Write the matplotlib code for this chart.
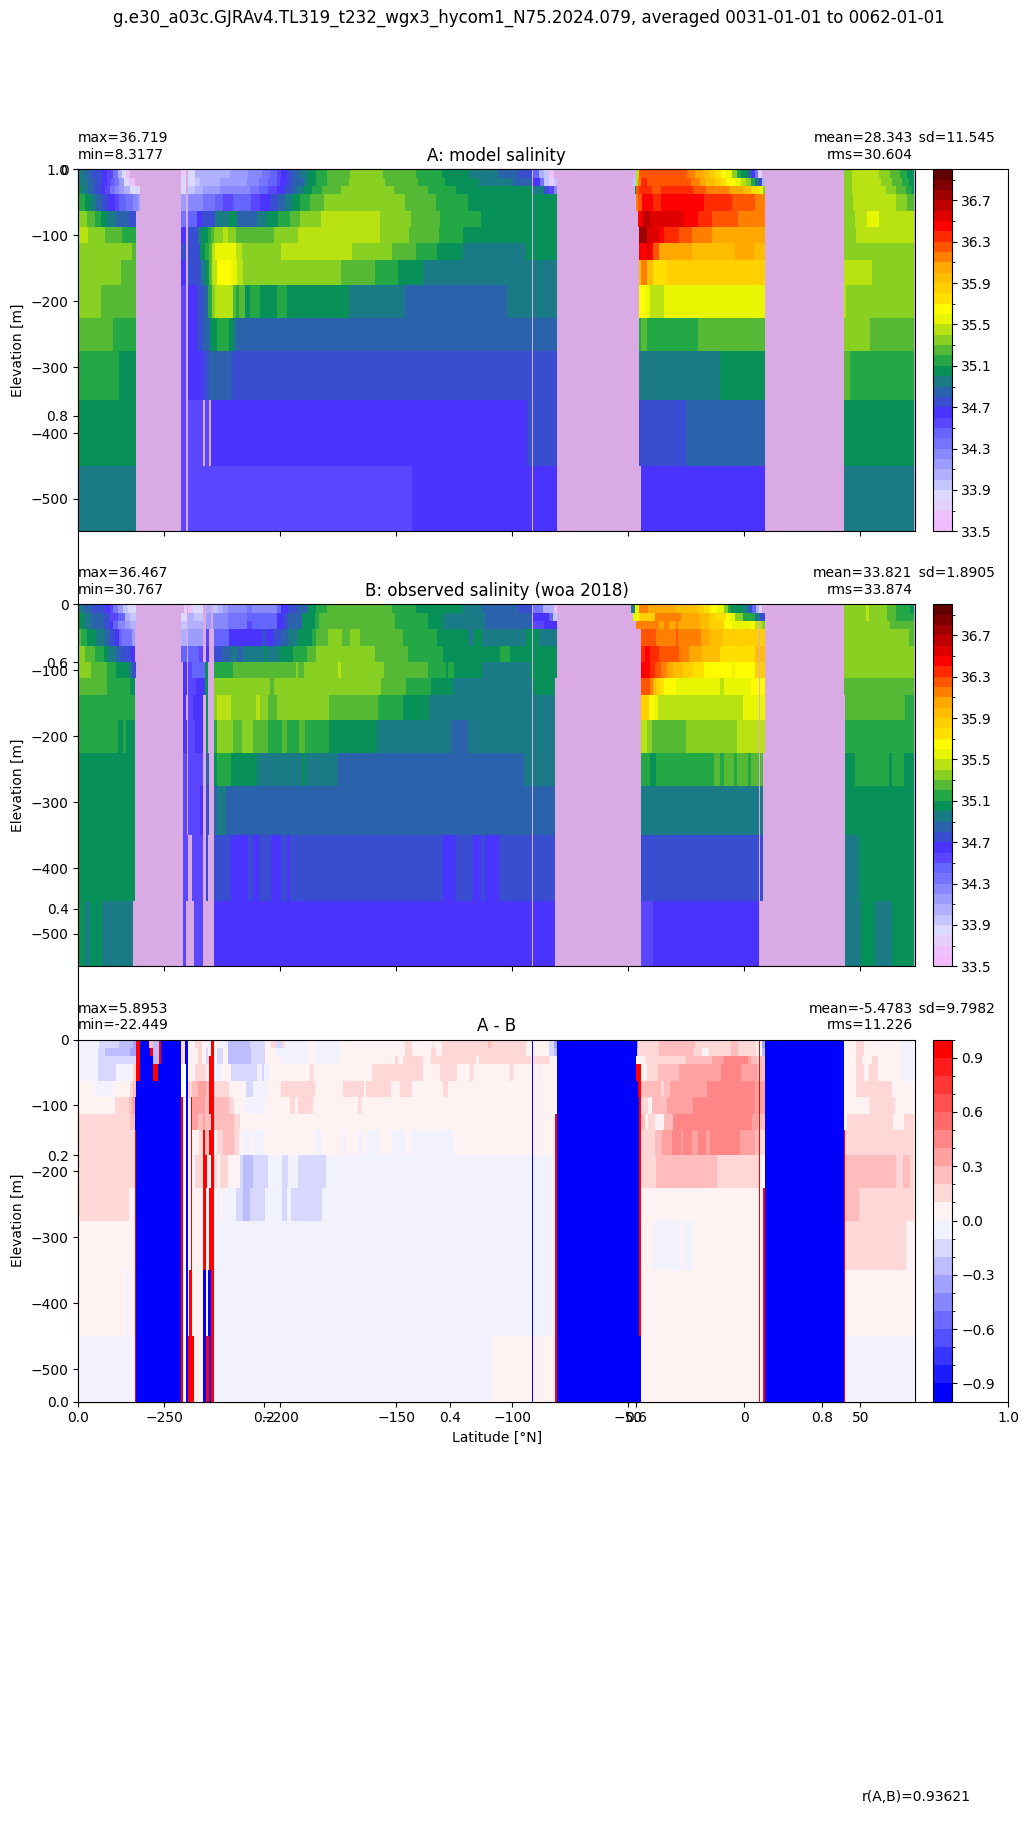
import numpy as np
import matplotlib
matplotlib.use('Agg')
import matplotlib.pyplot as plt
from matplotlib.colors import ListedColormap, Normalize

n = np.nan
lo = -0.95
hi = 0.95

# layer interfaces [m]
z_edges = [0, 12.5, 25, 37.5, 62.5, 87.5, 112.5, 137.5, 175, 225, 275, 350, 450, 550]

salt_colors = ['#f2bcfc', '#efc0fb', '#e4cffb', '#dbdafe', '#c4c6ff', '#b0b0ff', '#9c9cff',
               '#8888ff', '#7474ff', '#6464ff', '#5a46ff', '#4b33ff', '#394dd0', '#2a62ab',
               '#1a7a85', '#079158', '#24a745', '#55b935', '#88d022', '#b9e212', '#e9f602',
               '#fffb00', '#ffdf00', '#ffcf00', '#ffbd00', '#ffa900', '#ff7f00', '#ff5500',
               '#ff2a00', '#ff0000', '#df0000', '#bf0000', '#9f0000', '#7f0000', '#600000']

# each layer: x, value over the span that follows, x, value, ..., last x
# nan is land
model_layers = [
    [-287.1, 34.95, -284.3, 34.85, -281.3, 34.75, -277, 34.65, -274.8, 34.55, -272, 34.35, -270.1, 34.05, -268.4, 33.85,
     -266.7, 33.65, -264.8, n, -242.8, 33.75, -240.7, n, -239.8, 33.85, -236.8, 34.05, -221.7, 34.15, -213.8, 34.25,
     -208, 34.35, -204.5, 34.45, -201.6, 34.55, -199.5, 34.65, -197.3, 34.75, -194.4, 34.85, -191.3, 34.95, -188, 35.05,
     -184.4, 35.15, -180, 35.25, -170, 35.35, -155.6, 35.25, -141.3, 35.15, -130.5, 35.05, -118.6, 34.95, -106, 34.85,
     -97.4, 34.75, -91.4, n, -91, 34.45, -88.5, 34.05, -86.3, 33.95, -84.2, 33.65, -82, n, -46.5, 35.45, -45.4, 36.25,
     -24.6, 36.15, -21.3, 36.05, -17.8, 35.95, -14.8, 35.85, -12.6, 35.75, -10.2, 35.65, -7.3, 35.55, -5.2, 35.35,
     -3, 35.15, -1.6, 35.05, 1.7, 34.85, 3.2, 34.65, 4.6, 34.35, 6.1, 33.75, 7.5, n, 43, 35.35, 46.3, 35.45, 58, 35.35,
     62.6, 35.25, 67.1, 35.15, 70.1, 35.05, 73.3],
    [-287.1, 34.95, -283, 34.85, -280, 34.75, -277, 34.65, -274.8, 34.55, -273, 34.45, -271.2, 34.35, -269.5, 34.15,
     -267.2, 33.85, -265.2, 33.65, -262.6, n, -242.8, 33.85, -240.7, n, -239.8, 33.85, -236.8, 33.95, -234.6, 34.05,
     -226, 34.15, -214.5, 34.25, -209, 34.35, -205.2, 34.45, -201.6, 34.55, -200.2, 34.65, -197.3, 34.75, -194.4, 34.85,
     -190, 34.95, -188, 35.05, -184.4, 35.15, -180, 35.25, -170.3, 35.35, -155, 35.25, -140.5, 35.15, -129, 35.05,
     -114.3, 34.95, -99.6, 34.85, -91.4, n, -91, 34.65, -88, 34.35, -86.3, 33.95, -84.2, 33.75, -82, 33.95, -80.7, n,
     -48, 33.95, -46.5, 35.45, -45.7, 36.15, -44.7, 36.35, -41.8, 36.25, -23.1, 36.15, -19.2, 36.05, -16.4, 35.95,
     -12.6, 35.85, -10.2, 35.75, -7.7, 35.65, -4, 35.55, -1.6, 35.45, 0.9, 35.35, 2.7, 35.15, 4.6, 34.95, 6.3, 34.75,
     7.5, 34.05, 8.9, n, 43, 35.35, 46.3, 35.45, 58.8, 35.35, 63.8, 35.25, 67.8, 35.15, 71, 35.05, 73.3],
    [-287.1, 35.05, -285.6, 34.95, -283, 34.85, -280.2, 34.75, -277.3, 34.65, -275.6, 34.55, -273.4, 34.35, -271.4, 34.25,
     -269.7, 34.15, -267.2, 34.05, -264.8, 33.85, -260.5, n, -242.8, 33.85, -240.7, n, -239.8, 33.95, -236.8, 34.05,
     -233.2, 34.15, -226, 34.25, -213, 34.35, -209, 34.45, -205.2, 34.55, -201.6, 34.65, -198.4, 34.75, -195.6, 34.85,
     -193, 34.95, -190, 35.05, -186.5, 35.15, -182.2, 35.25, -173.9, 35.35, -150.9, 35.25, -136.5, 35.15, -124.3, 35.05,
     -91, 34.95, -86.4, 34.75, -84.2, 34.55, -82, 34.25, -80.7, n, -47.3, 35.05, -46.5, 36.25, -45.4, 36.35, -39.6, 36.25,
     -35.8, 36.35, -22.1, 36.25, -16.4, 36.15, -6.6, 36.05, -0.6, 35.95, 2.7, 35.75, 6.3, 35.55, 8.1, 35.35, 8.9, n,
     43, 35.35, 46.3, 35.45, 61.2, 35.35, 65.5, 35.25, 69.5, 35.15, 72.1, 35.05, 73.3],
    [-287.1, 35.15, -284.2, 35.05, -281.6, 34.95, -279.6, 34.85, -276.7, 34.75, -274.1, 34.65, -271.3, 34.55, -269.5, 34.45,
     -266.7, 34.35, -263.4, 34.25, -261.5, 34.15, -260.5, n, -242.8, 34.15, -240.7, n, -239.7, 34.25, -233.2, 34.35,
     -228.2, 34.45, -224.6, 34.55, -220.3, 34.45, -212.6, 34.55, -208.8, 34.65, -204.4, 34.75, -201, 34.85, -197.8, 34.95,
     -195.1, 35.05, -191.3, 35.15, -187.2, 35.25, -181.2, 35.35, -146.3, 35.25, -132.9, 35.15, -119, 35.05, -80.9, n,
     -46.5, 36.15, -45.7, 36.25, -44.2, 36.45, -39.4, 36.35, -36.1, 36.45, -17.4, 36.35, -5.4, 36.25, 4.6, 36.15, 8.9, n,
     43, 35.35, 46.8, 35.45, 65.5, 35.35, 70.3, 35.25, 73.3],
    [-287.1, 35.35, -283.3, 35.25, -279.9, 35.15, -277.3, 35.05, -274.9, 34.95, -271, 34.85, -265.2, 34.75, -262.2, n,
     -242.8, 34.35, -240.7, n, -240, 34.45, -236.1, 34.65, -233.9, 34.75, -228.2, 34.95, -222.1, 35.05, -218.8, 34.85,
     -210.2, 34.95, -205.9, 35.05, -200.9, 35.15, -195.9, 35.25, -191.3, 35.35, -182.5, 35.45, -157.1, 35.35, -143.7, 35.25,
     -131.2, 35.15, -113.7, 35.05, -80.9, n, -45.8, 36.45, -44.4, 36.55, -43.2, 36.65, -40.7, 36.55, -26, 36.45, -20, 36.35,
     -13.8, 36.25, -2.7, 36.15, 8.9, n, 43, 35.35, 47.7, 35.45, 53, 35.55, 58, 35.45, 73.3],
    [-287.1, 35.45, -282.9, 35.35, -275.6, 35.25, -268.4, 35.15, -262.2, n, -242.8, 34.65, -240.7, n, -240, 34.75,
     -235.3, 34.95, -233.6, 35.05, -231.3, 35.15, -229.9, 35.25, -228.6, 35.35, -224.6, 35.45, -222.7, 35.35, -219.3, 35.25,
     -202.8, 35.35, -192.4, 35.45, -157.1, 35.35, -144.6, 35.25, -131.6, 35.15, -121.3, 35.05, -80.9, n, -45.4, 36.719,
     -41.8, 36.55, -36.8, 36.45, -34.6, 36.35, -28.1, 36.25, -22.7, 36.15, -14.1, 36.05, 8.9, n, 43, 35.35, 48, 35.45, 73.3],
    [-287.1, 35.35, -264.1, 35.25, -262.2, n, -242.8, 34.75, -240.7, n, -240, 34.75, -234.6, 35.05, -232.5, 35.15,
     -230.7, 35.25, -229.3, 35.45, -228.2, 35.55, -219.1, 35.45, -216.7, 35.35, -199.5, 35.45, -168.9, 35.35, -152, 35.25,
     -141.3, 35.15, -132.6, 35.05, -121.1, 34.95, -93.9, 35.05, -80.9, n, -45.4, 36.45, -41.8, 36.55, -40.7, 36.45,
     -39.4, 36.25, -36.8, 36.05, -22.7, 35.95, -4, 36.05, 4.2, 35.95, 8.9, n, 43, 35.35, 73.3],
    [-287.1, 35.35, -268.7, 35.25, -262.2, n, -242.8, 34.65, -240.7, n, -239.7, 34.75, -234.2, 34.95, -232.2, 35.05,
     -230.6, 35.25, -229.3, 35.45, -227.4, 35.65, -221.3, 35.55, -218.8, 35.45, -215.9, 35.35, -173.9, 35.25, -159.2, 35.15,
     -149.2, 35.05, -138.4, 34.95, -80.9, n, -45.4, 35.95, -44.7, 36.15, -41.8, 35.95, -39.4, 35.75, -33.5, 35.85, 8.9, n,
     43, 35.45, 54.9, 35.35, 73.3],
    [-287.1, 35.35, -277.5, 35.25, -262.2, n, -242.8, 34.55, -240.7, n, -239.8, 34.65, -235.8, 34.75, -233.2, 34.85,
     -231.1, 35.15, -229.6, 35.35, -228.3, 35.45, -220.3, 35.25, -219.1, 35.15, -217.7, 35.25, -215.3, 35.05, -213.1, 35.15,
     -208.8, 35.05, -201.6, 35.15, -197, 35.05, -170.3, 34.95, -146.3, 34.85, -102.5, 34.95, -80.9, n, -45.4, 35.65,
     -42.5, 35.55, -40.7, 35.45, -34.6, 35.55, 8.9, n, 43, 35.45, 44, 35.35, 73.3],
    [-287.1, 35.25, -272, 35.15, -262.2, n, -242.8, 34.55, -240.7, n, -239.8, 34.65, -235.8, 34.75, -233.2, 34.85,
     -230.3, 35.05, -227.5, 35.15, -222.2, 35.05, -220.3, 34.95, -218.9, 34.85, -80.9, n, -45.4, 35.15, -44.5, 35.25,
     -42.1, 35.15, -20, 35.25, 8.9, n, 43, 35.35, 54.2, 35.25, 73.3],
    [-287.1, 35.15, -269.6, 35.05, -262.2, n, -242.8, 34.55, -240.7, n, -239.8, 34.65, -233.2, 34.75, -230.8, 34.85,
     -221.3, 34.75, -80.9, n, -45.4, 34.95, -10.5, 35.05, 8.9, n, 43, 35.25, 45.6, 35.15, 73.3],
    [-287.1, 35.05, -262.2, n, -242.8, 34.55, -240.7, n, -239.8, 34.55, -233.2, n, -232.5, 34.55, -230.8, n, -229.9, 34.65,
     -93.6, 34.75, -80.9, n, -45.4, 34.75, -25, 34.85, 8.9, n, 43, 35.05, 73.3],
    [-287.1, 34.95, -262.2, n, -242.8, 34.55, -240.7, n, -239.8, 34.55, -143.3, 34.65, -80.9, n, -44.5, 34.65, 8.9, n,
     43, 34.95, 73.3],
]

obs_layers = [
    [-287.1, 34.95, -284.5, 34.85, -281, 34.75, -275.6, 34.65, -273.4, 34.55, -272, 34.35, -269.8, 34.15, -267.6, 33.95,
     -265.7, 33.85, -262.4, n, -241.5, 33.75, -240.4, n, -239.6, 33.65, -237.5, 33.85, -233.2, n, -232.2, 34.05, -229.9, n,
     -228.9, 33.95, -227, 34.05, -224.6, 34.15, -222.4, 34.25, -214.5, 34.35, -212.4, 34.25, -201.6, 34.45, -199.5, 34.65,
     -196.6, 34.75, -193, 34.85, -188, 35.05, -184.4, 35.15, -180, 35.25, -152, 35.15, -141.3, 35.05, -121.1, 34.95,
     -113.2, 34.85, -97.4, 34.75, -91.4, n, -91, 34.35, -86.7, 34.05, -82.2, 33.65, -80.9, n, -48.8, 34.95, -47.1, 35.55,
     -45.4, 36.15, -41.5, 36.05, -29.6, 35.95, -20.2, 35.85, -17.4, 35.75, -14.8, 35.65, -11.9, 35.55, -8.8, 35.35,
     -7, 35.15, -5.9, 35.05, -0.4, 34.95, 2, 34.75, 3.5, 34.45, 4.9, 34.05, 6.3, 33.75, 7.5, n, 43, 35.35, 52.3, 35.45,
     53.7, 35.35, 61.6, 35.25, 65.2, 35.15, 71.3, 35.05, 73.3],
    [-287.1, 35.05, -284.5, 34.95, -281.6, 34.85, -275.9, 34.75, -273.4, 34.55, -270, 34.45, -266.8, 34.05, -264.8, 33.95,
     -262.4, n, -242.8, 33.85, -240.4, n, -239.6, 34.05, -237.1, 33.95, -233.2, n, -232.2, 34.15, -229.9, n, -228.9, 34.25,
     -222.7, 34.35, -214.5, 34.45, -201.6, 34.65, -198.7, 34.75, -196.6, 34.85, -190.8, 35.05, -185.1, 35.15, -183.2, 35.25,
     -150.6, 35.15, -136.2, 35.05, -130, 34.95, -111.8, 34.85, -91.4, n, -91, 34.65, -84.2, 34.45, -82.5, 33.95, -80.9, n,
     -48, 35.55, -46.1, 35.65, -45.4, 35.85, -38.5, 36.15, -27.4, 36.05, -19.1, 35.95, -15.2, 35.85, -12.6, 35.75,
     -7.7, 35.65, -6.2, 35.55, -4, 35.35, -0.4, 35.15, 4.6, 34.95, 6.8, 34.75, 8.9, n, 43, 35.35, 52.3, 35.45, 53.7, 35.35,
     61.6, 35.25, 65.2, 35.15, 73.3],
    [-287.1, 35.05, -284.5, 34.95, -281.6, 34.85, -275.9, 34.75, -273.4, 34.65, -272, 34.45, -269.8, 34.25, -266.8, 34.15,
     -264.8, 34.05, -262.4, n, -242.8, 33.95, -240.4, n, -239.6, 34.05, -233.2, n, -232.2, 34.15, -229.9, n, -228.9, 34.25,
     -222.7, 34.35, -214.5, 34.55, -212.4, 34.45, -201.6, 34.65, -198.4, 34.75, -196.6, 34.85, -190.8, 35.05, -185.1, 35.15,
     -183.2, 35.25, -150.6, 35.15, -136.2, 35.05, -129.8, 34.95, -111.8, 34.85, -91.4, n, -91, 34.55, -86.4, 34.65, -80.9, n,
     -46.7, 36.15, -36.8, 36.05, -34.6, 36.15, -32.5, 36.05, -29.6, 36.15, -28.6, 36.05, -19.1, 35.95, -15.2, 35.85,
     -8.8, 35.65, -5.2, 35.55, 2.7, 35.65, 4.6, 35.45, 7.5, 35.35, 8.9, n, 43, 35.35, 62.6, 35.25, 73.3],
    [-287.1, 35.25, -285.9, 35.15, -283.3, 35.05, -279.6, 34.95, -275.6, 34.85, -273.4, 34.75, -271.4, 34.65, -269.5, 34.45,
     -268.1, 34.35, -264.1, 34.15, -262.6, n, -242.8, 34.05, -240.4, n, -239.6, 34.15, -233.2, n, -232.2, 34.55, -230.7, n,
     -228.6, 34.45, -222.1, 34.65, -208, 34.75, -205.9, 34.65, -203, 34.75, -199.5, 34.85, -196.6, 34.95, -192.3, 35.05,
     -186.5, 35.15, -184.4, 35.25, -179.3, 35.35, -173.2, 35.25, -170, 35.35, -165.7, 35.25, -147, 35.15, -132.6, 35.05,
     -119, 34.95, -116.3, 35.05, -113.2, 34.95, -93.9, 35.05, -88.5, 34.95, -80.9, n, -44.5, 36.25, -38.2, 36.15, -29.6, 36.25,
     -28.6, 36.15, -18.8, 36.05, -14.8, 35.95, -9.2, 35.85, 8.9, n, 43, 35.35, 71, 35.25, 73.3],
    [-287.1, 35.35, -284.2, 35.25, -279.9, 35.15, -275.9, 35.05, -274.1, 34.95, -271, 34.85, -268.7, 34.75, -264.3, 34.65,
     -262.6, n, -242.8, 34.45, -240.4, n, -239.6, 34.45, -235, 34.55, -233.2, n, -232.2, 34.65, -230.7, n, -228.6, 34.75,
     -225.3, 34.85, -221.3, 34.95, -218.8, 34.85, -216, 34.95, -206.6, 35.05, -205.9, 34.95, -200.5, 35.05, -194.4, 35.15,
     -188.4, 35.25, -184.7, 35.35, -159.2, 35.25, -144.9, 35.15, -129.8, 35.05, -105.3, 35.15, -101, 35.05, -80.9, n,
     -44.5, 36.35, -42.8, 36.45, -40.8, 36.35, -36.8, 36.25, -28.2, 36.15, -23.8, 36.05, -18.1, 35.95, -10.5, 35.75,
     4.6, 35.95, 8.9, n, 43, 35.35, 73.3],
    [-287.1, 35.35, -281.6, 35.25, -274.7, 35.15, -270.7, 35.05, -265.2, 34.95, -263.8, 34.75, -262.2, n, -242.1, 34.65,
     -240.4, n, -239.7, 34.55, -238.2, 34.45, -232.5, 35.05, -231.1, n, -228.6, 35.15, -220.3, 35.25, -193.3, 35.35,
     -192.3, 35.25, -189.8, 35.35, -175, 35.45, -173.9, 35.35, -155.3, 35.25, -136.2, 35.15, -128.6, 35.05, -127.6, 35.15,
     -125.2, 35.05, -113.2, 34.95, -92.4, 35.05, -80.9, n, -44.5, 36.45, -40.6, 36.35, -38.5, 36.25, -35.9, 36.15,
     -33.3, 36.05, -30.7, 35.95, -26.4, 35.85, -22.1, 35.75, -17.4, 35.65, -5.2, 35.55, -4, 35.65, 4.6, 35.85, 8.9, n,
     43, 35.35, 73.3],
    [-287.1, 35.25, -274.9, 35.15, -264.8, 35.05, -262.7, n, -242.1, 34.65, -240.4, n, -239.7, 34.55, -236.4, 34.65,
     -232.5, 35.05, -231.1, n, -228.6, 35.35, -204.5, 35.25, -202.8, 35.35, -156.6, 35.25, -145.9, 35.15, -135.1, 35.05,
     -125.5, 34.95, -91.3, 35.05, -81.5, n, -44.5, 36.25, -40.6, 36.15, -39.4, 35.95, -38.2, 35.85, -36.8, 35.75, -34.6, 35.65,
     -29.6, 35.55, -10.6, 35.45, -8.8, 35.55, 2.7, 35.65, 8.9, n, 43, 35.25, 73.3],
    [-287.1, 35.15, -262.7, n, -242.1, 34.65, -240.7, n, -239.7, 34.55, -237.5, 34.65, -233.2, n, -232.1, 35.05, -231.1, n,
     -228.6, 35.35, -227.5, 35.45, -221.3, 35.35, -210.5, 35.45, -208.8, 35.35, -205.2, 35.25, -201.3, 35.35, -179.1, 35.25,
     -157.9, 35.15, -147, 35.05, -135.8, 34.95, -81.5, n, -44.5, 35.85, -41.1, 35.65, -38.9, 35.55, -37.2, 35.45, -0.6, 35.55,
     8.9, n, 43.4, 35.25, 69.4, 35.15, 73.3],
    [-287.1, 35.15, -269.9, 35.05, -267.7, 35.15, -266.7, 35.05, -262.7, n, -242.1, 34.65, -240.4, n, -239.7, 34.55,
     -236.8, 34.65, -233.2, n, -232.1, 35.05, -231.1, n, -228.6, 35.15, -227.5, 35.35, -220.6, 35.25, -216.6, 35.35,
     -211.7, 35.25, -205.2, 35.15, -199.2, 35.25, -197, 35.15, -192, 35.25, -189.4, 35.15, -179.1, 35.05, -158.2, 34.95,
     -126.5, 34.85, -119, 34.95, -81.5, n, -44.5, 35.45, -41.8, 35.35, -39.9, 35.25, -25, 35.35, -3, 35.45, 8.9, n,
     43.4, 35.15, 73.3],
    [-287.1, 35.05, -262.7, n, -241.9, 34.55, -240.4, n, -239.7, 34.55, -233.4, n, -232, 34.85, -230.7, n, -228.5, 35.05,
     -227.4, 35.15, -221.2, 35.05, -210.1, 34.95, -190.7, 35.05, -189.3, 34.95, -175.3, 34.85, -95, 34.95, -81.5, n,
     -44.5, 35.15, -40.7, 35.05, -38.2, 35.15, -13.1, 35.25, -10.5, 35.15, -8.8, 35.25, -4.4, 35.15, -3.2, 35.25, 1.6, 35.15,
     2.9, 35.25, 8, n, 43.4, 35.05, 47.7, 35.15, 62.4, 35.05, 63.8, 35.15, 68.8, 35.05, 73.3],
    [-287.1, 35.05, -262.7, n, -241.9, 34.55, -240.4, n, -239.7, 34.55, -234.6, 34.65, -233.4, n, -232, 34.75, -230.7, n,
     -228.5, 34.85, -227.4, 34.95, -223.4, 34.85, -81.5, n, -44.5, 34.95, 8, n, 43.4, 35.05, 73.3],
    [-287.1, 35.05, -262.7, n, -241.9, 34.55, -239.6, n, -238, 34.55, -233.4, n, -232, 34.75, -231.1, n, -228.5, 34.75,
     -221.2, 34.65, -213.9, 34.75, -211.6, 34.65, -209, 34.75, -204, 34.65, -199.7, 34.75, -196.9, 34.65, -195.8, 34.75,
     -130, 34.65, -126.2, 34.75, -125.5, 34.65, -124.3, 34.75, -116.8, 34.65, -113.7, 34.75, -111.8, 34.65, -105.6, 34.75,
     -81.5, n, -44.5, 34.75, 8, n, 43.4, 34.95, 49.4, 35.05, 73.3],
    [-287.1, 35.05, -284.2, 34.95, -282.1, 35.05, -279.6, 34.95, -278.8, 35.05, -277, 34.95, -263.4, n, -241.9, 34.55,
     -240.6, n, -237.2, 34.55, -233.4, n, -228.5, 34.65, -81.5, n, -44.5, 34.55, -39.4, 34.65, 6.3, n, 43.4, 34.95,
     50.2, 35.05, 56.3, 34.95, 63.8, 35.05, 73.3],
]

diff_layers = [
    [-287, -.05, -278.1, -.15, -269.4, -.25, -263.3, -.35, -262.2, hi, -260.5, lo, -256.6, .25, -255, -.25, -252.5, hi,
     -251.4, lo, -242.8, .15, -240.9, lo, -239.8, .05, -236.7, .15, -233.6, .05, -232.1, -.05, -230, hi, -228.6, .05,
     -226.4, -.05, -222.7, -.25, -213, -.15, -206.6, .05, -204.1, .15, -201.8, -.15, -199.4, .15, -198, -.05, -188.3, .05,
     -185, -.05, -173.8, .05, -146.2, .15, -143.1, .05, -134.4, .15, -133.6, .05, -130.4, .15, -110.3, .25, -109.2, .15,
     -94.2, .05, -84.2, -.15, -82, -.35, -80.9, lo, -46.4, -.35, -45.7, .15, -36.7, .25, -21.2, .15, -5.9, .25, -2.6, .15,
     4.9, .05, 7.8, -.35, 9, lo, 43, .05, 48, .15, 51.8, .05, 67.6, -.05, 73.3],
    [-287, -.05, -278.4, -.15, -275.5, -.25, -264.8, -.35, -262.2, hi, -260.5, lo, -256.1, hi, -255, -.25, -252.5, hi,
     -251.4, lo, -242.8, .15, -240.9, lo, -239.8, -.05, -237.9, .05, -235.3, .15, -233.6, .05, -232.1, -.15, -231, .05,
     -230, hi, -228.6, .05, -227.1, -.15, -224.8, .05, -222.4, -.25, -212.8, -.15, -206.6, .05, -201.8, -.05, -188.3, .05,
     -185, -.05, -173.8, .05, -146.2, .15, -143.1, .05, -135, .15, -132.9, .05, -130.4, .15, -94.2, .05, -84.2, -.15,
     -82, -.25, -80.9, lo, -46.4, -.15, -45.7, .15, -36.7, .25, -22.1, .15, -18.1, .05, -15.2, .15, -5.9, .25, -2.6, .15,
     4.9, .05, 7.8, -.25, 9, lo, 43, .05, 48, .15, 51.8, .05, 67.6, -.05, 73.3],
    [-287, -.05, -278.4, -.15, -262.2, hi, -260.5, lo, -255, -.25, -252.5, hi, -251.4, lo, -242.8, .15, -240.9, lo,
     -239.8, -.05, -237.9, .05, -235.3, .15, -233.6, .05, -232.1, -.15, -230.6, hi, -228.6, .05, -227.1, -.15, -224.8, .05,
     -222.4, -.25, -212.8, -.15, -206.6, .05, -199.7, -.05, -188.3, .05, -185, -.05, -174.7, .05, -150.5, .15, -149.1, .05,
     -147, .15, -138.6, .05, -135, .15, -115.6, .05, -114.3, .15, -92, .05, -90.6, .15, -84.2, .05, -80.9, lo, -46.8, .05,
     -42.5, .15, -25.2, .25, -13.8, .35, -8.7, .45, 1.8, .35, 2.8, .25, 5.6, .15, 6.6, .25, 9, lo, 43, .05, 48, .15,
     50.9, .05, 55.2, .15, 57.8, .05, 67.6, -.05, 73.3],
    [-287, -.05, -278.4, -.15, -270.8, -.05, -264.8, .05, -263.6, .15, -262.2, hi, -260.5, lo, -254.7, hi, -252.8, lo,
     -242.8, n, -240.7, lo, -239.8, .05, -236.7, .15, -232.1, .05, -230.6, hi, -228.6, -.05, -225, .05, -221.2, -.15,
     -209.9, -.05, -208, -.15, -207, -.05, -204.4, .05, -187.2, .15, -185.7, .05, -160.3, .15, -138.6, .05, -131.1, .15,
     -124, .05, -118.2, .15, -117.1, .05, -101, .15, -99.8, .05, -80.9, lo, -46.7, hi, -44.5, .05, -42, .15, -37, .25,
     -28.1, .35, -10.2, .45, -1.5, .35, 5.6, .25, 9, lo, 43, .05, 48, .15, 51.8, .05, 53.8, .15, 57.8, .05, 67.6, -.05, 73.3],
    [-287, .05, -279.9, -.05, -271.9, .05, -264.8, .15, -263.3, .25, -262.2, lo, -242.8, n, -240.7, lo, -239.8, .15,
     -238.2, .25, -235.3, .35, -232.1, .25, -230.6, hi, -228.6, .15, -222, .05, -214.8, -.15, -211.9, -.05, -205.9, .05,
     -199.7, .15, -185, .05, -172.8, .15, -163.9, .05, -163, .15, -152.4, .05, -148.4, .15, -143.4, .05, -129.7, .15,
     -127.7, .05, -80.9, lo, -45.7, hi, -44.4, .25, -36, .15, -34.6, .25, -32, .35, -15.9, .45, 4.6, .35, 9, lo, 43, .05,
     48, .15, 63.8, .05, 73.3],
    [-287, .05, -271.2, .15, -265.1, .25, -263.9, .35, -262.6, lo, -242.8, hi, -242.1, n, -240.7, lo, -239.8, .05,
     -238.5, hi, -238.2, .35, -232.4, .25, -230.6, hi, -228.6, .25, -222, .15, -219.9, .05, -215.2, -.05, -206.6, .05,
     -195.8, .15, -193.6, .05, -192.5, .15, -185.7, .05, -166.3, .15, -165.2, .05, -80.9, lo, -45.4, hi, -44.5, .15,
     -41.3, .05, -39.9, .25, -33.2, .35, -22.1, .45, 4.6, .35, 9, lo, 43, .05, 54.1, .15, 65, .05, 73.3],
    [-287, .15, -264.8, .25, -262.6, lo, -242.8, hi, -242.1, n, -240.7, lo, -239.8, .05, -238.5, hi, -238.2, .35, -235.3, .25,
     -233.4, .35, -232.3, .25, -230, hi, -228.6, .25, -219.9, .15, -217.3, .05, -81.6, hi, -80.9, lo, -45.4, hi, -44.5, .25,
     -42.8, .05, -41.3, .15, -38.5, .05, -34.6, .25, -30.7, .45, 3.5, .35, 6, .25, 9, lo, 43, .05, 44.3, .15, 64.1, .05,
     68.9, .15, 73.3],
    [-287, .15, -262.6, hi, -262.2, lo, -242.8, hi, -242.1, n, -240.7, lo, -239.8, .05, -238.5, hi, -238.2, .05, -235, .15,
     -233.3, hi, -232.3, .25, -230.6, hi, -228.6, .05, -227.1, .15, -224.8, .25, -219.9, .15, -217.9, .05, -215.9, -.05,
     -212.8, .05, -211.3, -.05, -207, .05, -185, -.05, -182.1, .05, -172.8, -.05, -171.7, .05, -166.3, -.05, -164.5, .05,
     -162.8, -.05, -157, .05, -152.4, -.05, -145.8, .05, -143.6, -.05, -125.1, .05, -81.6, hi, -80.9, lo, -45.4, hi, -44.5, .15,
     -38.6, .25, -35.3, .35, -31.3, .45, -27.3, .35, -26.4, .45, -22.7, .35, -20.1, .45, -16.6, .35, -14.8, .45, -1.8, .35,
     4.6, .25, 6.6, .15, 9, lo, 43, hi, 43.3, .15, 73.3],
    [-287, .15, -262.6, hi, -262.2, lo, -242.8, hi, -242.1, n, -240.7, lo, -239.8, .05, -238.5, hi, -238.2, .05, -236.9, .15,
     -233.3, hi, -231.4, .05, -230, hi, -228.6, .15, -227.1, .05, -226, .15, -222.5, .05, -217.3, -.15, -215.9, -.25,
     -211.6, -.15, -205.3, -.05, -199.2, -.15, -196.7, -.05, -192.4, -.15, -180.3, -.05, -81.6, hi, -80.9, lo, -45.4, hi,
     -44.5, .15, -38.2, .25, -11.6, .15, 6.6, .05, 9, lo, 43, hi, 43.3, .25, 65.3, .15, 68.4, .25, 71.4, .15, 73.3],
    [-287, .15, -265.2, .05, -262.6, hi, -262.2, lo, -242.8, hi, -242.1, n, -240.7, lo, -239.8, .05, -238.5, hi, -238.2, .05,
     -233.3, hi, -231.9, .05, -230.6, hi, -228.6, .05, -227.4, -.05, -226, .05, -224.5, -.05, -219.1, -.15, -215.9, -.25,
     -213, -.15, -206.6, -.05, -199.2, -.15, -197.2, -.05, -195.4, -.15, -182, -.05, -81.6, hi, -80.9, lo, -45.4, hi, -44.5, .05,
     8.2, hi, 9, lo, 43, hi, 43.3, .25, 49.5, .15, 73.3],
    [-287, .05, -262.6, hi, -262.2, lo, -242.8, hi, -242.1, n, -240.7, lo, -239.8, .05, -238.5, hi, -238.2, .05, -233.3, hi,
     -231.9, .05, -230.6, hi, -228.6, -.05, -81.6, hi, -80.9, lo, -45.4, hi, -44.5, .05, -39.3, -.05, -27.3, .05, -26, -.05,
     -22.1, .05, 8.2, hi, 9, lo, 43, hi, 43.3, .15, 69.6, .05, 73.3],
    [-287, .05, -266.5, -.05, -265.1, .05, -263, -.05, -262.6, hi, -262.2, lo, -242.8, hi, -242.1, n, -240.7, lo, -239.8, .05,
     -239.3, hi, -238.2, .05, -233.3, lo, -232, .05, -231.1, lo, -229.8, hi, -228.6, -.05, -81.6, hi, -80.9, lo, -45.4, hi,
     -44.5, .05, 8.2, hi, 9, lo, 43, hi, 43.3, .05, 73.3],
    [-287, -.05, -262.6, hi, -262.2, lo, -242.8, hi, -242.1, n, -240.7, lo, -239.8, hi, -237.2, .05, -233.3, lo, -232.1, hi,
     -230.6, lo, -229.8, hi, -228.6, -.05, -109.2, .05, -81.6, hi, -80.9, lo, -44.5, .05, 8.2, hi, 9, lo, 43, hi, 43.3, -.05, 73.3],
]

x_ticks = [-250, -200, -150, -100, -50, 0, 50]
y_ticks = [0, -100, -200, -300, -400, -500]
salt_major = [33.5, 33.9, 34.3, 34.7, 35.1, 35.5, 35.9, 36.3, 36.7]
salt_minor = [33.7, 34.1, 34.5, 34.9, 35.3, 35.7, 36.1, 36.5, 36.9]
diff_major = [-0.9, -0.6, -0.3, 0.0, 0.3, 0.6, 0.9]
diff_minor = [-1.0, -0.8, -0.7, -0.5, -0.4, -0.2, -0.1, 0.1, 0.2, 0.4, 0.5, 0.7, 0.8, 1.0]


def build_grid(layers, extra):
    edges = np.unique(np.concatenate([np.array(l[::2], dtype=float) for l in layers] + [np.array(extra, dtype=float)]))
    mid = 0.5 * (edges[:-1] + edges[1:])
    grid = np.full((len(layers), len(mid)), np.nan)
    for i, l in enumerate(layers):
        xs = l[::2]
        vals = l[1::2]
        for j, v in enumerate(vals):
            grid[i, (mid > xs[j]) & (mid < xs[j + 1])] = v
    return edges, mid, grid


W, H = 1028.0, 1829.0


def box(left, top, right, bottom):
    return [left / W, 1 - bottom / H, (right - left) / W, (bottom - top) / H]


fig = plt.figure(figsize=(10.28, 18.29), dpi=100)
fig.text(0.5142, 0.9903, 'g.e30_a03c.GJRAv4.TL319_t232_wgx3_hycom1_N75.2024.079, averaged 0031-01-01 to 0062-01-01',
         ha='center', va='center', fontsize=12)

# the empty axes behind the three panels
back = fig.add_axes(box(78.3, 169.3, 1008.3, 1401.5))
back.set_xlim(0, 1)
back.set_ylim(0, 1)

# straits one cell wide are cut through the grids afterwards
xa, mid_a, model = build_grid(model_layers, [-91.4, -91])
model[:, (mid_a > -91.4) & (mid_a < -91)] = np.nan
xb, mid_b, obs = build_grid(obs_layers, [-91.4, -91, 6.3, 6.9])
obs[:, (mid_b > -91.4) & (mid_b < -91)] = np.nan
obs[2:, (mid_b > 6.3) & (mid_b < 6.9)] = np.nan
xc, mid_c, diff = build_grid(diff_layers, [-91.6, -91, 6.4, 6.7])
diff[:, (mid_c > -91.6) & (mid_c < -91)] = lo
diff[:, (mid_c > 6.4) & (mid_c < 6.7)] = hi

salt_cmap = ListedColormap(salt_colors)
salt_norm = Normalize(33.5, 37.0)
diff_cmap = plt.get_cmap('bwr', 20)
diff_norm = Normalize(-1, 1)

z = -np.array(z_edges, dtype=float)

panels = [
    (xa, model, salt_cmap, salt_norm, 169.3, 'A: model salinity', 'max=36.719\nmin=8.3177',
     'mean=28.343\nrms=30.604', '  sd=11.545\n', '#daaae5'),
    (xb, obs, salt_cmap, salt_norm, 604.3, 'B: observed salinity (woa 2018)', 'max=36.467\nmin=30.767',
     'mean=33.821\nrms=33.874', '  sd=1.8905\n', '#daaae5'),
    (xc, diff, diff_cmap, diff_norm, 1039.5, 'A - B', 'max=5.8953\nmin=-22.449',
     'mean=-5.4783\nrms=11.226', '  sd=9.7982\n', 'white'),
]

for k, (x, grid, cmap, norm, top, title, left_txt, right_txt, sd_txt, land) in enumerate(panels):
    ax = fig.add_axes(box(78.3, top, 915.3, top + 362))
    ax.set_facecolor(land)
    mesh = ax.pcolormesh(x, z, grid, cmap=cmap, norm=norm, shading='flat', antialiased=False, linewidth=0)
    ax.set_xlim(-287.07, 73.7)
    ax.set_ylim(-549, 0)
    ax.set_xticks(x_ticks)
    ax.set_yticks(y_ticks)
    ax.set_ylabel('Elevation [m]')
    ax.yaxis.set_label_coords(-0.0642, 0.5)
    ax.set_title(title, fontsize=12)
    ax.annotate(left_txt, xy=(0, 1), xycoords='axes fraction', xytext=(-0.5, 5.5), textcoords='offset points',
                ha='left', va='bottom', fontsize=10)
    ax.annotate(right_txt, xy=(1, 1), xycoords='axes fraction', xytext=(-2, 5.5), textcoords='offset points',
                ha='right', va='bottom', fontsize=10)
    ax.annotate(sd_txt, xy=(1, 1), xycoords='axes fraction', xytext=(-3.5, 5.5), textcoords='offset points',
                ha='left', va='bottom', fontsize=10)
    if k < 2:
        ax.tick_params(labelbottom=False)
    else:
        ax.set_xlabel('Latitude [°N]')

    cax = fig.add_axes(box(933.3, top, 951.7, top + 362))
    cb = fig.colorbar(mesh, cax=cax)
    if k < 2:
        cb.set_ticks(salt_major)
        cb.set_ticks(salt_minor, minor=True)
    else:
        cb.set_ticks(diff_major)
        cb.set_ticks(diff_minor, minor=True)

fig.text(0.8385, 0.0175, 'r(A,B)=0.93621', ha='left', va='center', fontsize=10)

plt.savefig('out.png', dpi=100)
